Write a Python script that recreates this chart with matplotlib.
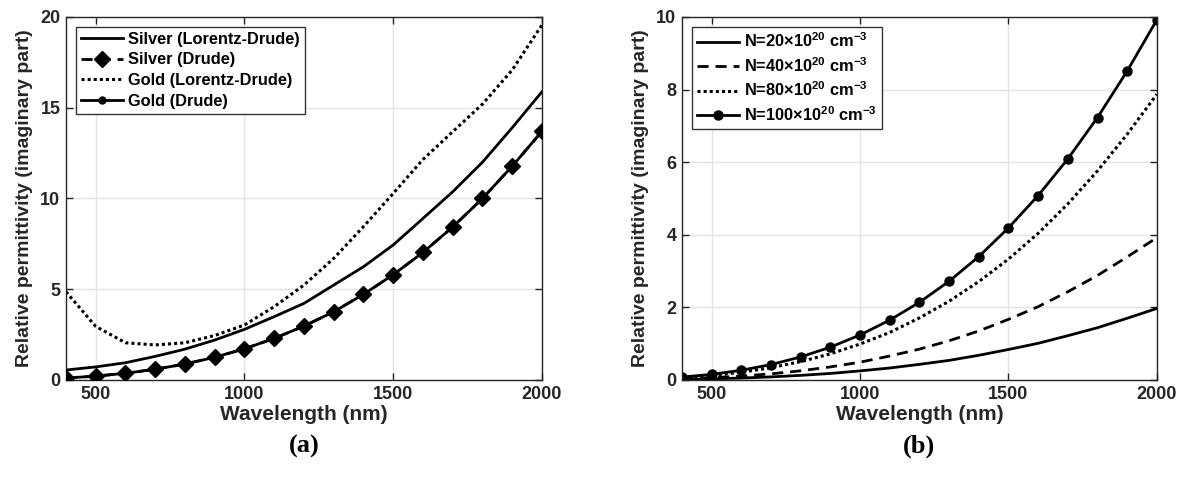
import matplotlib
matplotlib.use("Agg")
import matplotlib.pyplot as plt

plt.rcParams['font.family'] = ['Liberation Sans', 'DejaVu Sans']
plt.rcParams['font.weight'] = 'bold'
plt.rcParams['mathtext.fontset'] = 'custom'
plt.rcParams['mathtext.rm'] = 'Liberation Sans:bold'
plt.rcParams['mathtext.it'] = 'Liberation Sans:bold'
plt.rcParams['mathtext.bf'] = 'Liberation Sans:bold'

# wavelength samples (nm)
wl = [400, 500, 600, 700, 800, 900, 1000, 1100, 1200, 1300,
      1400, 1500, 1600, 1700, 1800, 1900, 2000]

# (a) metals
silver_ld = [0.55, 0.72, 0.95, 1.3, 1.7, 2.2, 2.79, 3.49, 4.22, 5.23,
             6.24, 7.44, 8.9, 10.37, 12.0, 13.9, 15.88]
silver_drude = [0.11, 0.21, 0.37, 0.59, 0.88, 1.25, 1.72, 2.29, 2.97, 3.76,
                4.72, 5.8, 7.03, 8.43, 10.0, 11.78, 13.7]
gold_ld = [4.86, 2.95, 2.05, 1.93, 2.05, 2.45, 3.03, 4.04, 5.23, 6.7,
           8.45, 10.28, 12.15, 13.68, 15.2, 17.08, 19.56]
gold_drude = [0.11, 0.21, 0.37, 0.59, 0.88, 1.25, 1.72, 2.29, 2.97, 3.76,
              4.72, 5.8, 7.03, 8.43, 10.0, 11.78, 13.7]

# (b) carrier concentration
n20 = [0.016, 0.031, 0.053, 0.085, 0.127, 0.18, 0.25, 0.33, 0.43, 0.54,
       0.68, 0.84, 1.01, 1.22, 1.44, 1.70, 1.97]
n40 = [0.032, 0.062, 0.107, 0.169, 0.253, 0.36, 0.49, 0.66, 0.85, 1.08,
       1.35, 1.67, 2.02, 2.43, 2.88, 3.39, 3.92]
n80 = [0.063, 0.123, 0.213, 0.339, 0.506, 0.72, 0.99, 1.31, 1.71, 2.17,
       2.71, 3.33, 4.04, 4.85, 5.76, 6.77, 7.87]
n100 = [0.079, 0.155, 0.268, 0.425, 0.635, 0.904, 1.24, 1.65, 2.14, 2.72,
        3.40, 4.19, 5.08, 6.09, 7.23, 8.51, 9.92]

labels_a = ['Silver (Lorentz-Drude)', 'Silver (Drude)',
            'Gold (Lorentz-Drude)', 'Gold (Drude)']
labels_b = [r'N=20×10$^{20}$ cm$^{-3}$', r'N=40×10$^{20}$ cm$^{-3}$',
            r'N=80×10$^{20}$ cm$^{-3}$', r'N=100×10$^{20}$ cm$^{-3}$']

dotted = (0, (1, 1))
dashed = (0, (4, 2.5))
tick_color = '#262626'

fig = plt.figure(figsize=(11.87, 4.83), dpi=100)
ax1 = fig.add_axes([0.0556, 0.2133, 0.401, 0.7516])
ax2 = fig.add_axes([0.5746, 0.2133, 0.400, 0.7516])

# (a)
ax1.plot(wl, silver_ld, color='k', lw=2, label=labels_a[0])
ax1.plot(wl, silver_drude, color='k', lw=2, ls=dashed, marker='D',
         ms=8.5, label=labels_a[1], zorder=4)
ax1.plot(wl, gold_ld, color='k', lw=2.2, ls=dotted, label=labels_a[2])
ax1.plot(wl, gold_drude, color='k', lw=2, marker='o', ms=5,
         label=labels_a[3], zorder=3)
ax1.set_ylim(0, 20)
ax1.set_yticks([0, 5, 10, 15, 20])

# (b)
ax2.plot(wl, n20, color='k', lw=2, label=labels_b[0])
ax2.plot(wl, n40, color='k', lw=2, ls=dashed, label=labels_b[1])
ax2.plot(wl, n80, color='k', lw=2.2, ls=dotted, label=labels_b[2])
ax2.plot(wl, n100, color='k', lw=2, marker='o', ms=6.5, label=labels_b[3])
ax2.set_ylim(0, 10)
ax2.set_yticks([0, 2, 4, 6, 8, 10])

for ax, tag in [(ax1, '(a)'), (ax2, '(b)')]:
    ax.set_xlim(400, 2000)
    ax.set_xticks([500, 1000, 1500, 2000])
    ax.grid(True, color='#e3e3e3', lw=1)
    ax.set_axisbelow(True)
    ax.tick_params(direction='in', top=True, right=True, length=5,
                   width=1, labelsize=13, colors=tick_color,
                   labelcolor=tick_color, pad=4)
    for lbl in ax.get_xticklabels() + ax.get_yticklabels():
        lbl.set_fontweight('bold')
    for sp in ax.spines.values():
        sp.set_color(tick_color)
        sp.set_linewidth(1)
    ax.set_xlabel('Wavelength (nm)', fontsize=15, fontweight='bold',
                  color=tick_color, labelpad=2)
    ax.set_ylabel('Relative permittivity (imaginary part)', fontsize=14,
                  fontweight='bold', color=tick_color, labelpad=5)
    ax.text(0.5, -0.182, tag, transform=ax.transAxes, ha='center',
            va='center', fontsize=19, fontweight='bold',
            family='Liberation Serif')
    leg = ax.legend(loc='upper left', bbox_to_anchor=(0.0, 0.0, 1, 1.0),
                    fontsize=11.8, handlelength=2.6, handletextpad=0.3,
                    borderpad=0.3, labelspacing=0.35, fancybox=False,
                    framealpha=1, borderaxespad=0.6)
    leg.get_frame().set_edgecolor('#333333')
    leg.get_frame().set_linewidth(1)

fig.savefig('out.png', dpi=100)
